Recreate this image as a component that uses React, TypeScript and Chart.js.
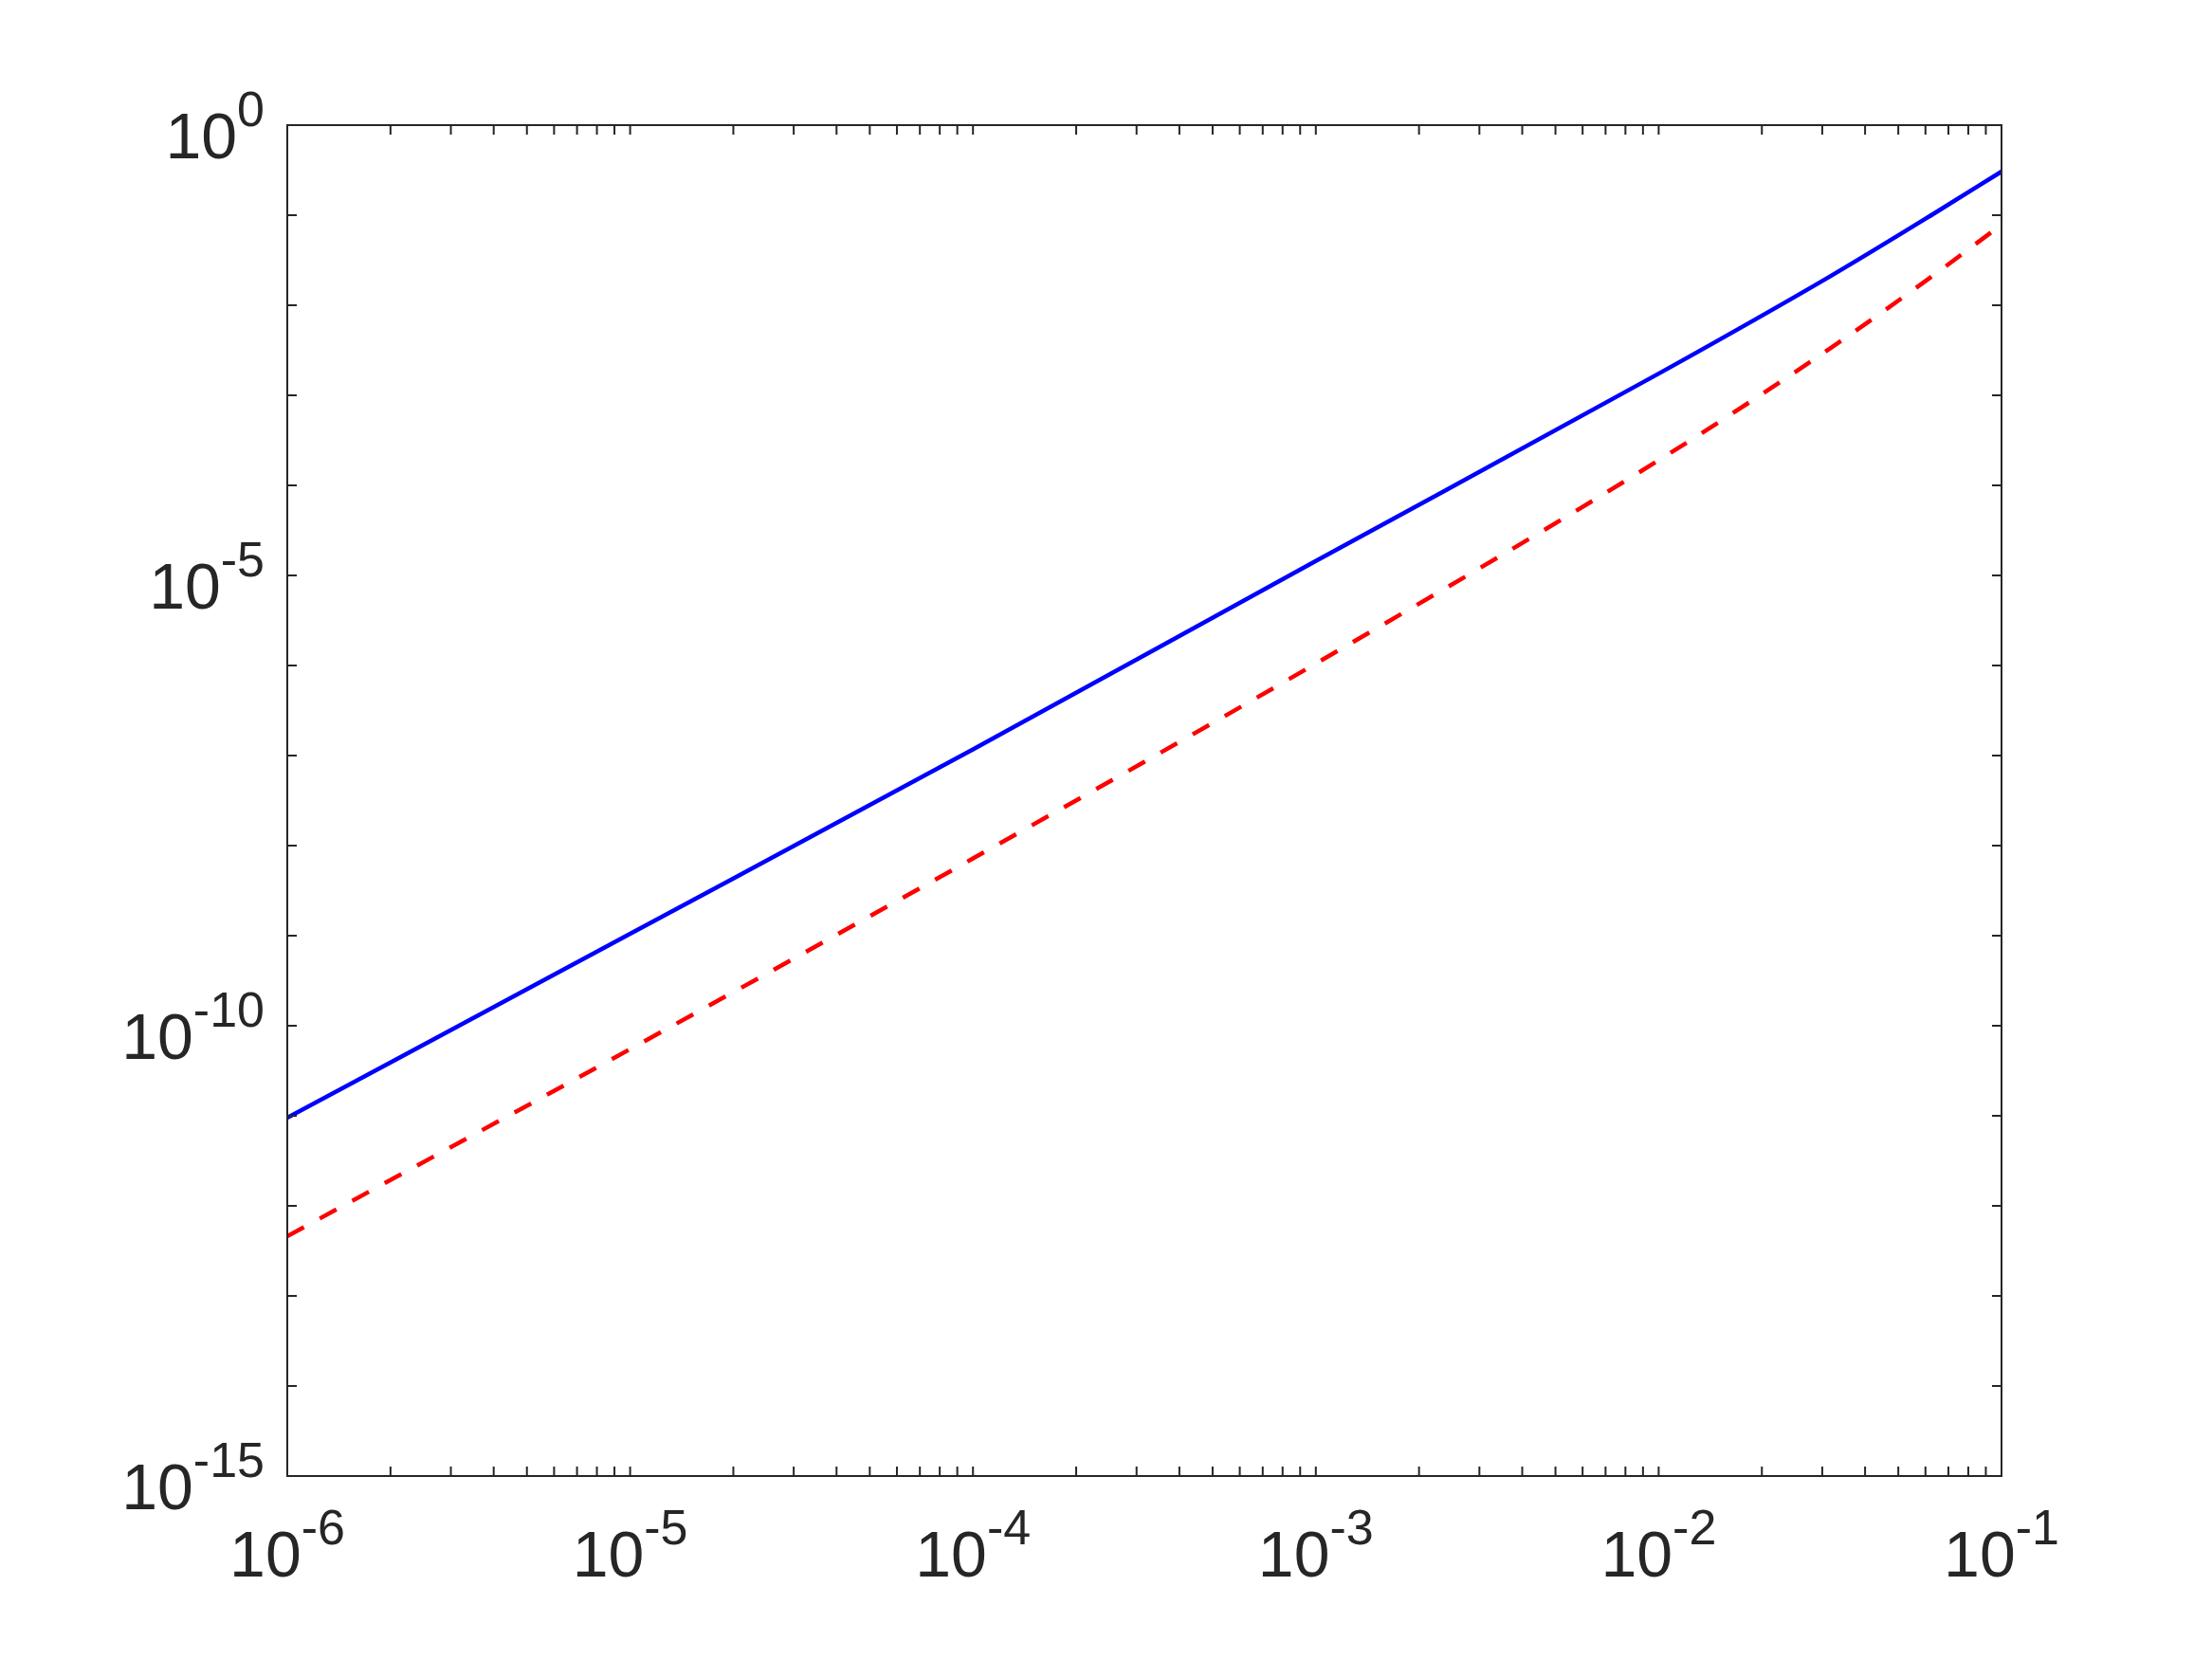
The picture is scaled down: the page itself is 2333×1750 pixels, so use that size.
import React, { useEffect, useRef } from "react";
import { Chart, registerables } from "chart.js";

Chart.register(...registerables);

// x values (log-spaced readings)
const xValues = [1e-6, 1e-5, 1e-4, 1e-3, 1e-2, 0.0316, 0.0637, 0.1];
// solid blue series
const blueValues = [9.5e-12, 1.05e-9, 1.17e-7, 1.45e-5, 1.74e-3, 2.09e-2, 1.05e-1, 0.305];
// dashed red series
const redValues = [4.6e-13, 5.5e-11, 7.2e-9, 1.05e-6, 1.9e-4, 3.31e-3, 2.19e-2, 7.85e-2];

// axis ticks and labels
const xMajorExps = [-6, -5, -4, -3, -2, -1];
const xMinorMultipliers = [2, 3, 4, 5, 6, 7, 8, 9];
const yTickExps = [0, -1, -2, -3, -4, -5, -6, -7, -8, -9, -10, -11, -12, -13, -14, -15];
const yLabelExps = [0, -5, -10, -15];

const W = 2333;
const H = 1750;
const AXIS_COLOR = "#262626";
const BASE_FONT = '68px "Liberation Sans", Arial, Helvetica, sans-serif';
const EXP_FONT = '52px "Liberation Sans", Arial, Helvetica, sans-serif';

const axesPlugin = {
  id: "matlabAxes",
  afterDraw(chart: any) {
    const ctx = chart.ctx as CanvasRenderingContext2D;
    const { left, right, top, bottom } = chart.chartArea;
    const xs = chart.scales.x;
    const ys = chart.scales.y;
    const tickLen = 10;
    ctx.save();
    ctx.strokeStyle = AXIS_COLOR;
    ctx.lineWidth = 2;
    ctx.strokeRect(left, top, right - left, bottom - top);

    ctx.beginPath();
    const xTickVals: number[] = [];
    xMajorExps.forEach((e, i) => {
      xTickVals.push(Math.pow(10, e));
      if (i < xMajorExps.length - 1) {
        xMinorMultipliers.forEach((m) => xTickVals.push(m * Math.pow(10, e)));
      }
    });
    xTickVals.forEach((v) => {
      const px = xs.getPixelForValue(v);
      ctx.moveTo(px, bottom);
      ctx.lineTo(px, bottom - tickLen);
      ctx.moveTo(px, top);
      ctx.lineTo(px, top + tickLen);
    });
    yTickExps.forEach((e) => {
      const py = ys.getPixelForValue(Math.pow(10, e));
      ctx.moveTo(left, py);
      ctx.lineTo(left + tickLen, py);
      ctx.moveTo(right, py);
      ctx.lineTo(right - tickLen, py);
    });
    ctx.stroke();

    ctx.fillStyle = AXIS_COLOR;
    ctx.textBaseline = "alphabetic";
    ctx.textAlign = "left";
    const measure = (exp: string) => {
      ctx.font = BASE_FONT;
      const wb = ctx.measureText("10").width;
      ctx.font = EXP_FONT;
      const we = ctx.measureText(exp).width;
      return { wb, we };
    };
    const drawPow = (exp: string, x0: number, baseline: number, wb: number) => {
      ctx.font = BASE_FONT;
      ctx.fillText("10", x0, baseline);
      ctx.font = EXP_FONT;
      ctx.fillText(exp, x0 + wb, baseline - 34);
    };
    xMajorExps.forEach((e) => {
      const exp = String(e);
      const px = xs.getPixelForValue(Math.pow(10, e));
      const { wb, we } = measure(exp);
      drawPow(exp, px - (wb + we) / 2, bottom + 106, wb);
    });
    yLabelExps.forEach((e) => {
      const exp = String(e);
      const py = ys.getPixelForValue(Math.pow(10, e));
      const { wb, we } = measure(exp);
      drawPow(exp, left - 24 - (wb + we), py + 35, wb);
    });
    ctx.restore();
  },
};

export default function App() {
  const ref = useRef<HTMLCanvasElement | null>(null);
  useEffect(() => {
    if (!ref.current) return;
    const chart = new Chart(ref.current, {
      type: "line",
      data: {
        datasets: [
          {
            data: xValues.map((x, i) => ({ x, y: blueValues[i] })),
            borderColor: "#0000FF",
            borderWidth: 4.5,
            pointRadius: 0,
            fill: false,
            cubicInterpolationMode: "monotone",
          },
          {
            data: xValues.map((x, i) => ({ x, y: redValues[i] })),
            borderColor: "#FF0000",
            borderWidth: 4.5,
            borderDash: [20, 19],
            pointRadius: 0,
            fill: false,
            cubicInterpolationMode: "monotone",
          },
        ],
      },
      options: {
        animation: false,
        responsive: false,
        devicePixelRatio: 1,
        layout: { padding: { left: 303, right: 222, top: 132, bottom: 193 } },
        plugins: { legend: { display: false }, tooltip: { enabled: false } },
        scales: {
          x: { type: "logarithmic", min: 1e-6, max: 1e-1, display: false },
          y: { type: "logarithmic", min: 1e-15, max: 1, display: false },
        },
      },
      plugins: [axesPlugin],
    });
    return () => chart.destroy();
  }, []);
  return (
    <div style={{ position: "fixed", left: 0, top: 0, width: W, height: H, background: "#fff" }}>
      <canvas ref={ref} width={W} height={H} style={{ width: W, height: H, display: "block" }} />
    </div>
  );
}
